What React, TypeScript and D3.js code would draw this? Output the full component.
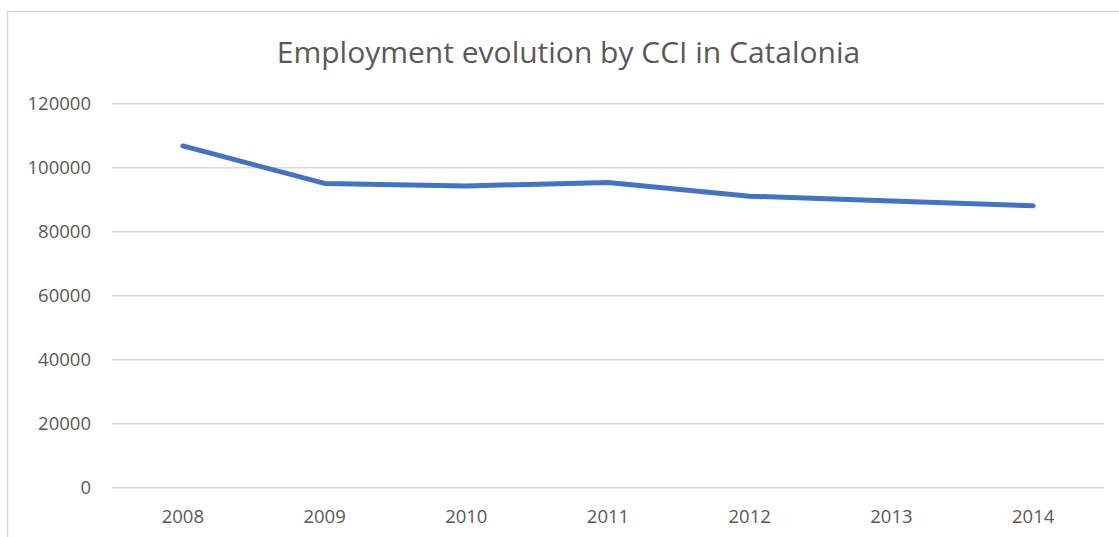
import React from "react";
import * as d3 from "d3";

const years = ["2008", "2009", "2010", "2011", "2012", "2013", "2014"];
const employment = [106800, 95100, 94300, 95400, 91100, 89600, 88100];
const yTicks = [0, 20000, 40000, 60000, 80000, 100000, 120000];
const title = "Employment evolution by CCI in Catalonia";

export default function App() {
  const W = 1119, H = 537;
  const left = 112, right = 1104, top = 103.7, bottom = 487.7;
  const x = d3.scaleBand<string>().domain(years).range([left, right]);
  const y = d3.scaleLinear().domain([0, 120000]).range([bottom, top]);
  const line = d3
    .line<number>()
    .x((_, i) => (x(years[i]) as number) + x.bandwidth() / 2)
    .y((d) => y(d));
  const font = "'Open Sans', sans-serif";
  return (
    <svg
      width={W}
      height={H}
      style={{ position: "absolute", left: 0, top: 0, background: "#fff" }}
    >
      <rect x={7.5} y={11.5} width={1130} height={560} fill="#fff" stroke="#d9d9d9" strokeWidth={1.5} />
      <text x={568.5} y={63} textAnchor="middle" fontFamily={font} fontSize={30} fill="#595959">
        {title}
      </text>
      {yTicks.map((t) => (
        <g key={t}>
          <line x1={left} x2={right} y1={y(t)} y2={y(t)} stroke="#d9d9d9" strokeWidth={1.5} />
          <text x={91} y={y(t)} dy="0.35em" textAnchor="end" fontFamily={font} fontSize={18.5} fill="#595959">
            {t}
          </text>
        </g>
      ))}
      {years.map((yr) => (
        <text
          key={yr}
          x={(x(yr) as number) + x.bandwidth() / 2}
          y={523}
          textAnchor="middle"
          fontFamily={font}
          fontSize={18.5}
          fill="#595959"
        >
          {yr}
        </text>
      ))}
      <path d={line(employment) || ""} fill="none" stroke="#4472C4" strokeWidth={5} strokeLinecap="round" strokeLinejoin="round" />
    </svg>
  );
}
